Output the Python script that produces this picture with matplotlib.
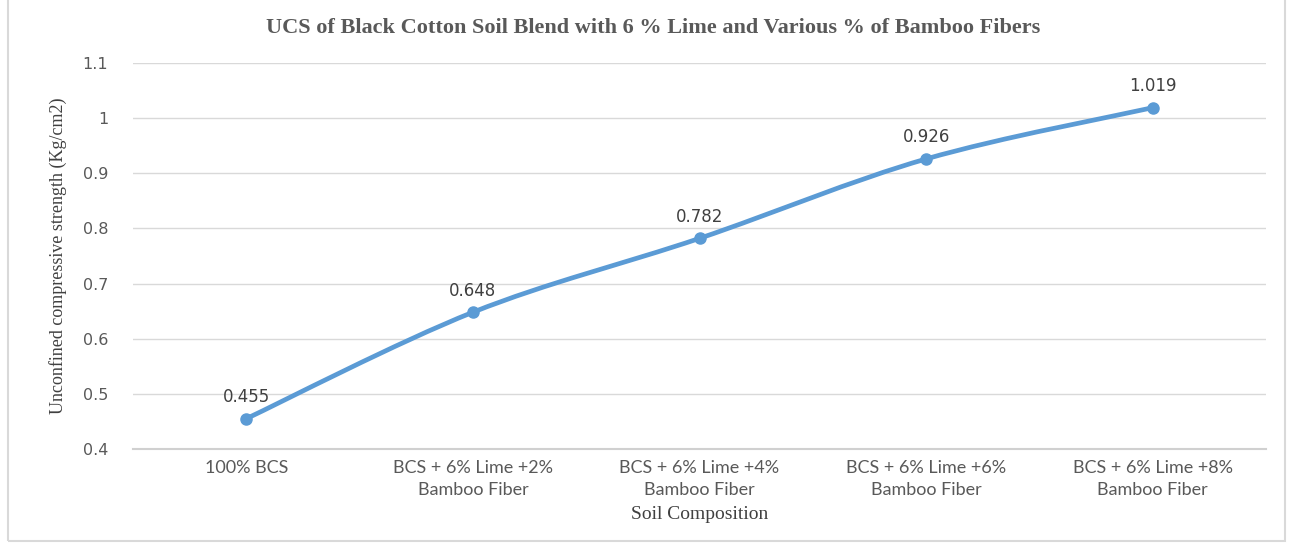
import matplotlib.pyplot as plt
from matplotlib.patches import Rectangle, PathPatch
from matplotlib.path import Path
from matplotlib.ticker import FuncFormatter

CATEGORIES = ['100% BCS',
              'BCS + 6% Lime +2%\nBamboo Fiber',
              'BCS + 6% Lime +4%\nBamboo Fiber',
              'BCS + 6% Lime +6%\nBamboo Fiber',
              'BCS + 6% Lime +8%\nBamboo Fiber']
UCS = [0.455, 0.648, 0.782, 0.926, 1.019]
Y_TICKS = [0.4, 0.5, 0.6, 0.7, 0.8, 0.9, 1.0, 1.1]

BLUE = '#5B9BD5'
GRAY = '#595959'


def smooth_path(xs, ys):
    # Excel-style smoothed line: cubic bezier through each point
    pts = list(zip(xs, ys))
    verts = [pts[0]]
    codes = [Path.MOVETO]
    n = len(pts)
    for i in range(n - 1):
        p0 = pts[i - 1] if i > 0 else pts[i]
        p1 = pts[i]
        p2 = pts[i + 1]
        p3 = pts[i + 2] if i + 2 < n else pts[i + 1]
        c1 = (p1[0] + (p2[0] - p0[0]) / 6, p1[1] + (p2[1] - p0[1]) / 6)
        c2 = (p2[0] - (p3[0] - p1[0]) / 6, p2[1] - (p3[1] - p1[1]) / 6)
        verts += [c1, c2, p2]
        codes += [Path.CURVE4] * 3
    return Path(verts, codes)


fig = plt.figure(figsize=(12.93, 5.48), dpi=100)
ax = fig.add_axes([0.1029, 0.1807, 0.8762, 0.7043])

x = list(range(len(CATEGORIES)))
ax.add_patch(PathPatch(smooth_path(x, UCS), facecolor='none', edgecolor=BLUE,
                       linewidth=3.4, capstyle='round', zorder=3))
ax.plot(x, UCS, linestyle='none', color=BLUE, marker='o', markersize=8, zorder=4)
for xi, v in zip(x, UCS):
    ax.annotate(f'{v:.3f}', (xi, v), xytext=(0, 9), textcoords='offset points',
                ha='center', va='bottom', fontsize=12, color='#404040',
                family='DejaVu Sans')

ax.set_xlim(-0.5, len(CATEGORIES) - 0.5)
ax.set_ylim(0.4, 1.1)
ax.set_yticks(Y_TICKS)
ax.yaxis.set_major_formatter(FuncFormatter(lambda v, p: f'{v:g}'))
ax.set_xticks(x)
ax.set_xticklabels(CATEGORIES, fontsize=13, color=GRAY, family='Lato', linespacing=1.45)
ax.tick_params(axis='y', labelsize=11.5, labelcolor=GRAY, length=0, pad=18)
ax.tick_params(axis='x', length=0, pad=8)
ax.grid(axis='y', color='#D9D9D9', linewidth=1)
ax.set_axisbelow(True)
for side in ['top', 'right', 'left']:
    ax.spines[side].set_visible(False)
ax.spines['bottom'].set_color('#D0D0D0')
ax.spines['bottom'].set_linewidth(1.5)

ax.set_ylabel('Unconfined compressive strength (Kg/cm2)', fontsize=13,
              family='Liberation Serif', color='#404040')
ax.set_xlabel('Soil Composition', fontsize=14, family='Liberation Serif',
              color='#404040', labelpad=6)
ax.yaxis.set_label_coords(-0.058, 0.5)

fig.suptitle('UCS of Black Cotton Soil Blend with 6 % Lime and Various % of Bamboo Fibers',
             x=0.505, y=0.968, fontsize=16, fontweight='bold', family='Liberation Serif',
             color=GRAY)

fig.patches.append(Rectangle((0.006, 0.012), 0.988, 0.99, transform=fig.transFigure,
                             fill=False, edgecolor='#D9D9D9', linewidth=1.5))

fig.savefig('out.png', dpi=100)
